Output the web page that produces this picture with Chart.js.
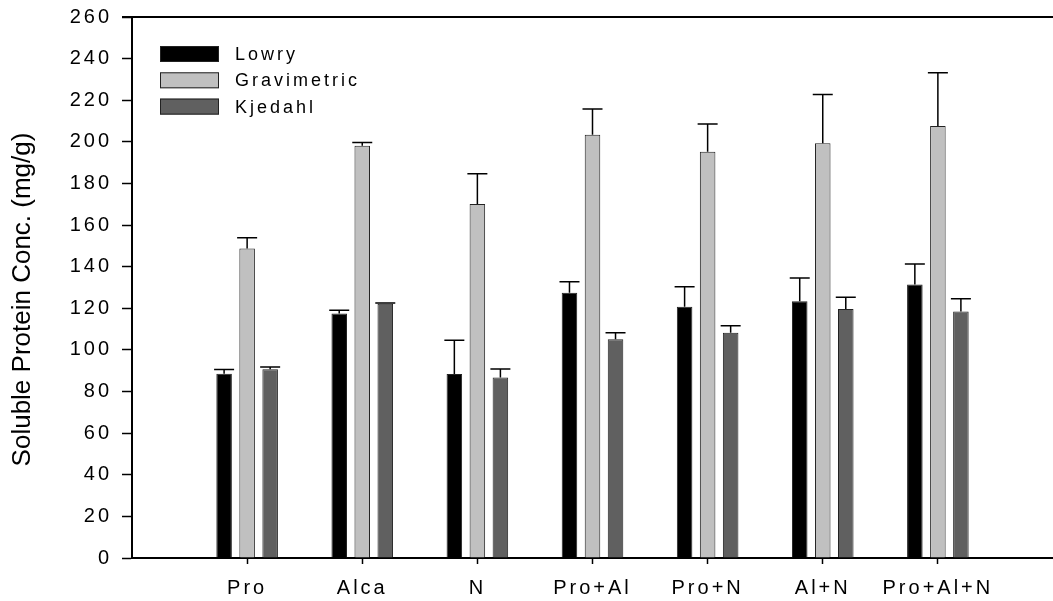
<!DOCTYPE html>
<html>
<head>
<meta charset="utf-8">
<script src="https://cdn.jsdelivr.net/npm/chart.js@4"></script>
<style>
  body { margin: 0; background: #fff; }
</style>
</head>
<body>
<canvas id="chart" width="1053" height="601"></canvas>
<script>
// treatments along the x axis
const categories = ['Pro', 'Alca', 'N', 'Pro+Al', 'Pro+N', 'Al+N', 'Pro+Al+N'];

// soluble protein (mg/g) and upper error bars
const lowry = [88.5, 117.5, 88.4, 127.5, 120.8, 123.4, 131.5];
const lowryErr = [2.1, 1.6, 16.2, 5.3, 9.6, 11.2, 9.8];
const gravimetric = [148.8, 198.1, 170.1, 203.4, 195.2, 199.3, 207.6];
const gravimetricErr = [5.1, 1.6, 14.6, 12.4, 13.4, 23.5, 25.6];
const kjedahl = [90.7, 122.2, 86.8, 105.1, 108.3, 119.7, 118.5];
const kjedahlErr = [1.1, 0.3, 4.0, 3.2, 3.3, 5.6, 6.1];

const yTicks = [0, 20, 40, 60, 80, 100, 120, 140, 160, 180, 200, 220, 240, 260];

const FONT = "'Liberation Sans', Arial, sans-serif";
const SPACING = '3px';

// empty slot at each end of the axis, like the original plot
const labels = [''].concat(categories, ['']);
const pad = (arr) => [null].concat(arr, [null]);

// wide letter spacing on ticks and legend
const spacing = {
    id: 'spacing',
    beforeLayout(chart) { chart.ctx.letterSpacing = SPACING; },
    beforeDraw(chart) { chart.ctx.letterSpacing = SPACING; }
};

// upward error bars with caps
const errorBars = {
    id: 'errorBars',
    afterDatasetsDraw(chart) {
        const ctx = chart.ctx;
        const y = chart.scales.y;
        ctx.save();
        ctx.strokeStyle = '#000';
        ctx.lineWidth = 1.5;
        chart.data.datasets.forEach((ds, di) => {
            const meta = chart.getDatasetMeta(di);
            meta.data.forEach((bar, i) => {
                const v = ds.data[i];
                if (v == null) return;
                const top = y.getPixelForValue(v + ds.errors[i]);
                ctx.beginPath();
                ctx.moveTo(bar.x, bar.y);
                ctx.lineTo(bar.x, top);
                ctx.moveTo(bar.x - 10, top);
                ctx.lineTo(bar.x + 10, top);
                ctx.stroke();
            });
        });
        ctx.restore();
    }
};

// frame top line, legend box inside the plot and y title
const extras = {
    id: 'extras',
    afterDraw(chart) {
        const ctx = chart.ctx;
        const a = chart.chartArea;
        ctx.save();
        ctx.strokeStyle = '#000';
        ctx.lineWidth = 2;
        ctx.beginPath();
        ctx.moveTo(a.left - 10, a.top);
        ctx.lineTo(a.right, a.top);
        ctx.stroke();

        ctx.letterSpacing = SPACING;
        ctx.font = '18px ' + FONT;
        ctx.textBaseline = 'middle';
        ctx.textAlign = 'left';
        chart.data.datasets.forEach((ds, i) => {
            const bx = a.left + 28;
            const by = a.top + 29 + i * 26.3;
            ctx.fillStyle = ds.backgroundColor;
            ctx.fillRect(bx, by, 59, 16);
            ctx.lineWidth = 1;
            ctx.strokeStyle = '#222';
            ctx.strokeRect(bx + 0.5, by + 0.5, 58, 15);
            ctx.fillStyle = '#000';
            ctx.fillText(ds.label, bx + 75, by + 9);
        });

        ctx.letterSpacing = '0px';
        ctx.font = '26px ' + FONT;
        ctx.textAlign = 'center';
        ctx.translate(23, (a.top + a.bottom) / 2 + 12);
        ctx.rotate(-Math.PI / 2);
        ctx.fillText('Soluble Protein Conc. (mg/g)', 0, 0);
        ctx.restore();
    }
};

function makeSet(label, data, errors, color) {
    return {
        label: label,
        data: pad(data),
        errors: pad(errors),
        backgroundColor: color,
        borderColor: '#222',
        borderWidth: 1,
        categoryPercentage: 0.6,
        barPercentage: 0.675
    };
}

new Chart(document.getElementById('chart'), {
    type: 'bar',
    data: {
        labels: labels,
        datasets: [
            makeSet('Lowry', lowry, lowryErr, '#000000'),
            makeSet('Gravimetric', gravimetric, gravimetricErr, '#c0c0c0'),
            makeSet('Kjedahl', kjedahl, kjedahlErr, '#606060')
        ]
    },
    options: {
        responsive: false,
        animation: false,
        layout: { padding: { top: 17, right: 0, left: 0, bottom: 0 } },
        plugins: {
            legend: { display: false },
            tooltip: { enabled: false }
        },
        scales: {
            x: {
                offset: false,
                grid: {
                    offset: false,
                    drawOnChartArea: false,
                    tickLength: 6,
                    tickWidth: 1.5,
                    tickColor: (c) => (c.index === 0 || c.index === labels.length - 1) ? 'rgba(0,0,0,0)' : '#000'
                },
                border: { color: '#000', width: 2 },
                ticks: {
                    color: '#000',
                    font: { family: FONT, size: 20 },
                    padding: 12,
                    maxRotation: 0,
                    autoSkip: false
                },
                afterFit(s) {
                    s.height = 43;
                    s.paddingLeft = 0;
                    s.paddingRight = 0;
                }
            },
            y: {
                min: 0,
                max: 260,
                afterBuildTicks(s) { s.ticks = yTicks.map(v => ({ value: v })); },
                grid: {
                    drawOnChartArea: false,
                    tickLength: 10,
                    tickWidth: 1.5,
                    tickColor: '#000'
                },
                border: { color: '#000', width: 2 },
                ticks: {
                    color: '#000',
                    font: { family: FONT, size: 20 },
                    padding: 10
                },
                afterFit(s) {
                    s.width = 132;
                    s.paddingTop = 0;
                    s.paddingBottom = 0;
                }
            }
        }
    },
    plugins: [spacing, errorBars, extras]
});
</script>
</body>
</html>
